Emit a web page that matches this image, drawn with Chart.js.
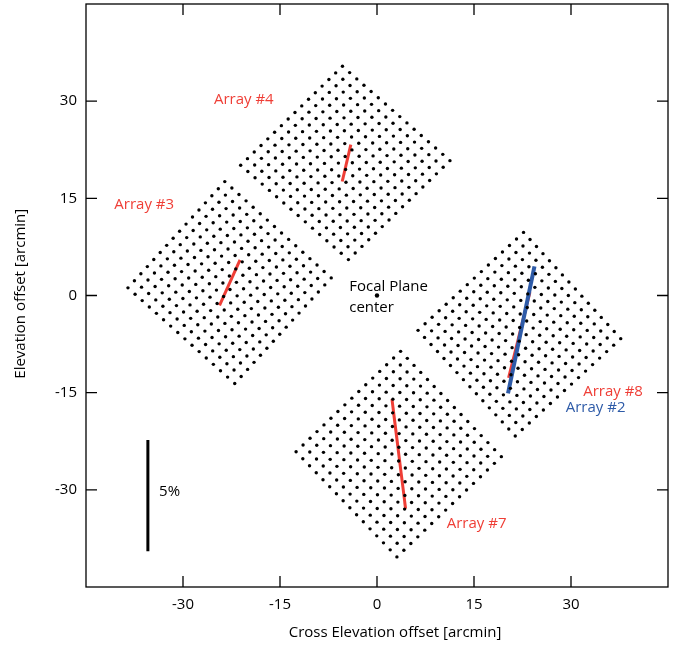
<!DOCTYPE html>
<html><head><meta charset="utf-8">
<script src="https://cdn.jsdelivr.net/npm/chart.js@4.4.0/dist/chart.umd.min.js"></script>
<style>html,body{margin:0;padding:0;background:#fff}canvas{display:block}</style>
</head><body>
<canvas id="c" width="683" height="648"></canvas>
<script>
// ---- data (arcmin) ----
const xTicks = [-30, -15, 0, 15, 30];
const yTicks = [-30, -15, 0, 15, 30];
const detectorsPerSide = 16;
// corner detectors of each array: [top, right, bottom, left]
const array4Corners = [[-5.34, 35.38], [11.28, 20.82], [-4.42, 5.54], [-21.08, 20.11]];
const array3Corners = [[-23.54, 17.58], [-7.08, 2.72], [-22.00, -13.58], [-38.51, 1.18]];
const array8Corners = [[22.66, 9.74], [37.69, -6.66], [21.38, -21.69], [6.35, -5.38]];
const array7Corners = [[3.65, -8.62], [19.23, -24.88], [3.08, -40.35], [-12.51, -24.11]];
// polarization-angle segments
const line4 = [[-4.05, 23.28], [-5.38, 17.60]];
const line3 = [[-21.18, 5.49], [-24.35, -1.54]];
const line8 = [[23.65, 0.51], [20.35, -12.72]];
const line2 = [[24.35, 4.51], [20.26, -15.12]];
const line7 = [[2.31, -16.00], [4.42, -32.92]];
const scaleBar = [[-35.43, -22.31], [-35.43, -39.49]];
const focalCenter = [[0, 0]];
// text annotations: [text, x, y]
const redLabels = [['Array #4', -20.6, 30.2], ['Array #3', -36.0, 14.0], ['Array #8', 36.5, -14.8], ['Array #7', 15.4, -35.2]];
const blueLabels = [['Array #2', 33.8, -17.4]];
const blackLeftLabels = [['Focal Plane', -4.3, 1.4], ['center', -4.3, -1.85], ['5%', -33.7, -30.3]];
const xTitle = 'Cross Elevation offset [arcmin]';
const yTitle = 'Elevation offset [arcmin]';

// ---- build ----
const RED = '#ef3e36', BLUE = '#2e5ba8';
const FONT = '"Open Sans", "Noto Sans", sans-serif';
function lattice(c) {
  const [T, R, B, L] = c, n = detectorsPerSide - 1, pts = [];
  for (let i = 0; i <= n; i++) for (let j = 0; j <= n; j++) {
    const u = i / n, v = j / n;
    pts.push({
      x: (1-u)*(1-v)*T[0] + u*(1-v)*R[0] + (1-u)*v*L[0] + u*v*B[0],
      y: (1-u)*(1-v)*T[1] + u*(1-v)*R[1] + (1-u)*v*L[1] + u*v*B[1]
    });
  }
  return pts;
}
const toPts = a => a.map(p => ({x: p[0], y: p[1]}));
const dotDS = c => ({data: lattice(c), backgroundColor: '#000', borderWidth: 0, pointRadius: 1.7, showLine: false});
const lineDS = (a, col, w) => ({data: toPts(a), borderColor: col, borderWidth: w, pointRadius: 0, showLine: true, borderCapStyle: 'butt'});

const framePlugin = {
  id: 'frame',
  beforeDatasetsDraw(chart) {
    const {ctx, chartArea: a, scales: {x, y}} = chart;
    ctx.save();
    ctx.strokeStyle = '#000';
    ctx.lineWidth = 1.3;
    ctx.strokeRect(a.left, a.top, a.right - a.left, a.bottom - a.top);
    const tl = 11;
    ctx.beginPath();
    xTicks.forEach(v => {
      const px = x.getPixelForValue(v);
      ctx.moveTo(px, a.bottom); ctx.lineTo(px, a.bottom - tl);
      ctx.moveTo(px, a.top); ctx.lineTo(px, a.top + tl);
    });
    yTicks.forEach(v => {
      const py = y.getPixelForValue(v);
      ctx.moveTo(a.left, py); ctx.lineTo(a.left + tl, py);
      ctx.moveTo(a.right, py); ctx.lineTo(a.right - tl, py);
    });
    ctx.stroke();
    // axis titles
    ctx.fillStyle = '#000';
    ctx.font = '15px ' + FONT;
    ctx.textAlign = 'center';
    ctx.textBaseline = 'middle';
    ctx.fillText(xTitle, a.left + (a.right - a.left) * 0.531, 633);
    ctx.translate(21, a.top + (a.bottom - a.top) * 0.497);
    ctx.rotate(-Math.PI / 2);
    ctx.fillText(yTitle, 0, 0);
    ctx.restore();
  },
  afterDatasetsDraw(chart) {
    const {ctx, scales: {x, y}} = chart;
    ctx.save();
    ctx.font = '15px ' + FONT;
    ctx.textBaseline = 'middle';
    const draw = (list, col, align) => {
      ctx.fillStyle = col; ctx.textAlign = align;
      list.forEach(([t, vx, vy]) => ctx.fillText(t, x.getPixelForValue(vx), y.getPixelForValue(vy)));
    };
    draw(redLabels, RED, 'center');
    draw(blueLabels, BLUE, 'center');
    draw(blackLeftLabels, '#000', 'left');
    ctx.restore();
  }
};

new Chart(document.getElementById('c'), {
  type: 'scatter',
  data: {
    datasets: [
      dotDS(array4Corners), dotDS(array3Corners), dotDS(array8Corners), dotDS(array7Corners),
      lineDS(line2, BLUE, 4),
      lineDS(line4, RED, 3), lineDS(line3, RED, 3), lineDS(line8, RED, 3), lineDS(line7, RED, 3),
      lineDS(scaleBar, '#000', 3),
      {data: toPts(focalCenter), backgroundColor: '#000', borderWidth: 0, pointRadius: 2.2, showLine: false}
    ]
  },
  options: {
    responsive: false,
    animation: false,
    events: [],
    layout: {padding: {top: 3, right: 15, left: 0, bottom: 0}},
    plugins: {legend: {display: false}, tooltip: {enabled: false}},
    scales: {
      x: {
        type: 'linear', min: -45, max: 45,
        afterBuildTicks: s => { s.ticks = xTicks.map(v => ({value: v})); },
        afterFit: s => { s.height = 61; s.paddingLeft = 0; s.paddingRight = 0; },
        grid: {display: false, drawTicks: false},
        border: {display: false},
        ticks: {padding: 9, color: '#000', font: {family: FONT, size: 15}, maxRotation: 0},
        title: {display: false}
      },
      y: {
        type: 'linear', min: -45, max: 45,
        afterBuildTicks: s => { s.ticks = yTicks.map(v => ({value: v})); },
        afterFit: s => { s.width = 86; s.paddingTop = 0; s.paddingBottom = 0; },
        grid: {display: false, drawTicks: false},
        border: {display: false},
        ticks: {padding: 9, color: '#000', font: {family: FONT, size: 15}},
        title: {display: false}
      }
    }
  },
  plugins: [framePlugin]
});
</script>
</body></html>
